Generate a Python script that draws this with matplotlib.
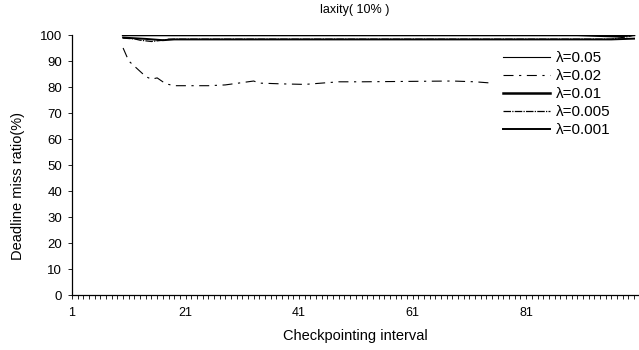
import matplotlib
matplotlib.use("Agg")
import matplotlib.pyplot as plt
from matplotlib.ticker import MultipleLocator, FixedLocator

plt.rcParams['font.family'] = ['Liberation Sans', 'DejaVu Sans']

# ---- data ----
title = "laxity( 10% )"
xlabel = "Checkpointing interval"
ylabel = "Deadline miss ratio(%)"
x_ticks = [1, 21, 41, 61, 81]
y_ticks = [0, 10, 20, 30, 40, 50, 60, 70, 80, 90, 100]

labels = ["λ=0.05", "λ=0.02", "λ=0.01", "λ=0.005", "λ=0.001"]

lam005_x = [10, 30, 50, 70, 90, 100]
lam005_y = [100, 100, 100, 100, 100, 100]

lam002_x = [10, 11, 12, 13, 14, 15, 16, 17, 18, 19, 25, 28, 33, 34, 38, 42, 48, 52, 68, 72, 75]
lam002_y = [95, 90, 88, 86, 84, 83, 83.5, 82, 81, 80.5, 80.5, 80.8, 82.3, 81.5, 81.2, 81, 82, 82, 82.3, 82, 81.5]

lam001_x = [10, 30, 50, 70, 90, 97, 100]
lam001_y = [100, 100, 100, 100, 100, 99.5, 100]

lam0005_x = [10, 12, 13, 15, 17, 18, 40, 60, 80, 96, 99, 100]
lam0005_y = [98.8, 98.5, 98, 97.5, 98, 98.4, 98.4, 98.4, 98.4, 98.4, 99.4, 100]

lam0001_x = [10, 14, 17, 19, 40, 60, 80, 96, 100]
lam0001_y = [99, 98.5, 98, 98.3, 98.3, 98.3, 98.3, 98.3, 98.6]

# ---- figure ----
fig = plt.figure(figsize=(6.39, 3.50), dpi=100)
ax = fig.add_axes([72/639, 55/350, (638-72)/639, (295-35)/350])

ax.plot(lam005_x, lam005_y, color='black', lw=0.8, label=labels[0])
ax.plot(lam002_x, lam002_y, color='black', lw=0.8, dashes=(9, 5, 2, 5), label=labels[1])
ax.plot(lam001_x, lam001_y, color='black', lw=1.8, label=labels[2])
ax.plot(lam0005_x, lam0005_y, color='black', lw=0.9, dashes=(6, 1, 1, 1), label=labels[3])
ax.plot(lam0001_x, lam0001_y, color='black', lw=1.4, label=labels[4])

ax.set_xlim(1, 100.7)
ax.set_ylim(0, 100)
ax.xaxis.set_major_locator(FixedLocator(x_ticks))
ax.xaxis.set_minor_locator(MultipleLocator(1))
ax.yaxis.set_major_locator(FixedLocator(y_ticks))

for s in ['top', 'right']:
    ax.spines[s].set_visible(False)
ax.spines['left'].set_linewidth(0.9)
ax.spines['bottom'].set_linewidth(0.9)

ax.tick_params(axis='x', which='major', direction='out', length=3, width=0.6,
               labelsize=9, pad=6)
ax.tick_params(axis='x', which='minor', direction='out', length=3, width=0.6)
ax.tick_params(axis='y', which='major', direction='out', length=3, width=0.6,
               labelsize=9.5, pad=4)

ax.set_xlabel(xlabel, fontsize=10.5)
ax.xaxis.set_label_coords(0.5, -0.13)
ax.set_ylabel(ylabel, fontsize=10.5)
ax.yaxis.set_label_coords(-0.083, 0.42)
ax.set_title(title, fontsize=9, pad=16)

leg = ax.legend(loc='upper left', bbox_to_anchor=(0.751, 0.962), frameon=False,
                fontsize=11, handlelength=3.05, handletextpad=0.42,
                labelspacing=0.26, borderaxespad=0)

fig.savefig("out.png", dpi=100)
